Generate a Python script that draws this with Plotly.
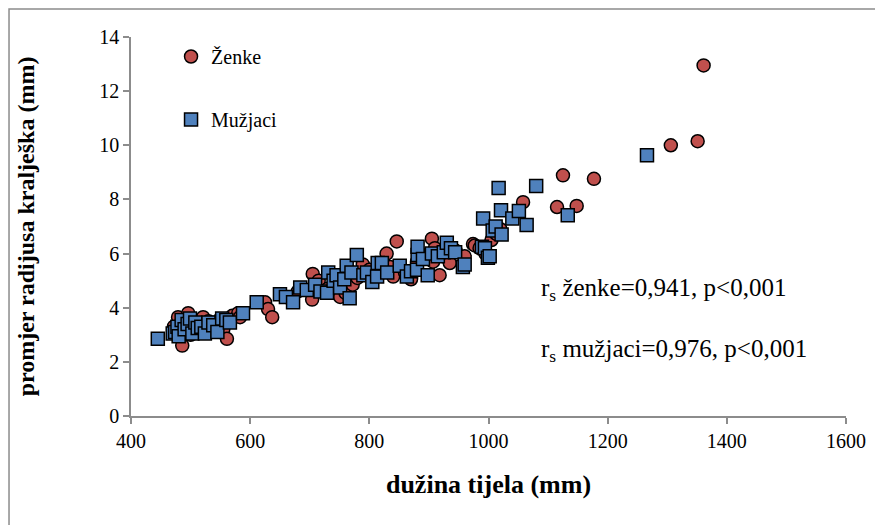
import plotly.graph_objects as go

# Ženke (females)
f_x = [472, 476, 479, 483, 486, 490, 494, 496, 500, 505, 510, 515, 521, 525, 530, 540, 548, 555, 561, 570, 580, 583,
       625, 630, 637, 660, 680, 704, 705, 715, 730, 745, 751, 760, 772, 780, 789, 800, 815, 829, 835, 840, 846, 860,
       870, 880, 890, 905, 907, 910, 918, 925, 935, 945, 960, 974, 977, 985, 995, 1005, 1012, 1014, 1020, 1058,
       1115, 1125, 1148, 1177, 1306, 1351, 1361]
f_y = [3.3, 3.1, 3.65, 3.4, 2.6, 3.2, 3.5, 3.8, 3.0, 3.55, 3.3, 3.45, 3.65, 3.1, 3.5, 3.3, 3.55, 3.2, 2.85, 3.7, 3.8, 3.65,
       4.2, 3.95, 3.65, 4.4, 4.6, 4.3, 5.25, 5.0, 4.7, 5.0, 4.4, 4.55, 4.85, 5.1, 5.6, 5.4, 5.2, 6.0, 5.5, 5.15, 6.45, 5.3,
       5.05, 5.7, 5.9, 6.55, 5.7, 6.2, 5.2, 5.9, 5.65, 6.1, 5.9, 6.35, 6.3, 6.2, 6.0, 6.5, 6.75, 6.72, 6.9, 7.9,
       7.72, 8.89, 7.76, 8.76, 10.0, 10.15, 12.95]

# Mužjaci (males)
m_x = [445, 470, 474, 478, 480, 485, 490, 495, 499, 503, 508, 512, 518, 524, 530, 538, 545, 553, 560, 566, 588, 611,
       650, 660, 672, 684, 695, 709, 718, 729, 731, 740, 745, 751, 758, 762, 767, 770, 779, 790, 796, 805, 813, 814,
       821, 830, 851, 863, 870, 880, 881, 881, 890, 898, 905, 915, 925, 930, 937, 944, 957, 960, 989, 991, 994, 999,
       1002, 1007, 1012, 1017, 1021, 1022, 1040, 1051, 1064, 1080, 1133, 1266]
m_y = [2.85, 3.05, 3.1, 3.3, 2.95, 3.55, 3.2, 3.4, 3.6, 3.05, 3.45, 3.25, 3.3, 3.05, 3.45, 3.35, 3.1, 3.6, 3.55, 3.45, 3.8, 4.2,
       4.5, 4.4, 4.2, 4.75, 4.65, 4.85, 4.6, 4.55, 5.3, 5.0, 5.2, 4.75, 5.05, 5.55, 4.35, 5.3, 5.95, 5.2, 5.3, 4.95, 5.15, 5.65,
       5.65, 5.3, 5.55, 5.15, 5.35, 5.4, 5.95, 6.25, 5.8, 5.2, 6.0, 5.9, 6.05, 6.4, 6.2, 6.05, 5.5, 5.6, 6.25, 7.3, 6.2, 5.85,
       5.9, 6.85, 7.0, 8.42, 7.6, 6.7, 7.3, 7.57, 7.06, 8.5, 7.42, 9.63]

x_ticks = [400, 600, 800, 1000, 1200, 1400, 1600]
y_ticks = [0, 2, 4, 6, 8, 10, 12, 14]

serif = "Liberation Serif"

fig = go.Figure()
fig.add_trace(go.Scatter(
    x=f_x, y=f_y, mode="markers", name="Ženke", legendgroup="f",
    marker=dict(symbol="circle", size=13, color="#C0504D", line=dict(color="black", width=1.5)),
))
fig.add_trace(go.Scatter(
    x=m_x, y=m_y, mode="markers", name="Mužjaci", legendgroup="m",
    marker=dict(symbol="square", size=13, color="#4F81BD", line=dict(color="black", width=1.5)),
))

axis_common = dict(showgrid=False, zeroline=False, showline=True, linecolor="#8C8C8C", linewidth=1.5,
                   ticks="outside", ticklen=6, tickcolor="#8C8C8C", tickwidth=1.5,
                   tickfont=dict(family=serif, size=20, color="black"))

fig.update_layout(
    width=883, height=525,
    margin=dict(l=123, r=45, t=29, b=117),
    paper_bgcolor="white", plot_bgcolor="white",
    font=dict(family=serif, color="black"),
    xaxis=dict(range=[400, 1600], tickvals=x_ticks, **axis_common,
               title=dict(text="<b>dužina tijela (mm)</b>", font=dict(family=serif, size=26, color="black"), standoff=24)),
    yaxis=dict(range=[0, 14], tickvals=y_ticks, **axis_common,
               title=dict(text="<b>promjer radijusa kralješka (mm)</b>", font=dict(family=serif, size=24, color="black"), standoff=58)),
    legend=dict(x=0.056, y=1.0, xanchor="left", yanchor="top", bgcolor="rgba(0,0,0,0)",
                font=dict(family=serif, size=20, color="black"), tracegroupgap=34, itemwidth=30),
    showlegend=True,
    shapes=[dict(type="rect", xref="paper", yref="paper", x0=-0.1706, x1=1.08, y0=-0.32, y1=1.0739,
                 line=dict(color="#8C8C8C", width=1.5), fillcolor="rgba(0,0,0,0)", layer="below")],
    annotations=[
        dict(xref="paper", yref="paper", x=0.571, y=0.333, xanchor="left", yanchor="middle", showarrow=False,
             text="r<sub>s</sub> ženke=0,941, p<0,001", font=dict(family=serif, size=25, color="black")),
        dict(xref="paper", yref="paper", x=0.571, y=0.174, xanchor="left", yanchor="middle", showarrow=False,
             text="r<sub>s</sub> mužjaci=0,976, p<0,001", font=dict(family=serif, size=25, color="black")),
    ],
)

fig.write_html("out.html")
